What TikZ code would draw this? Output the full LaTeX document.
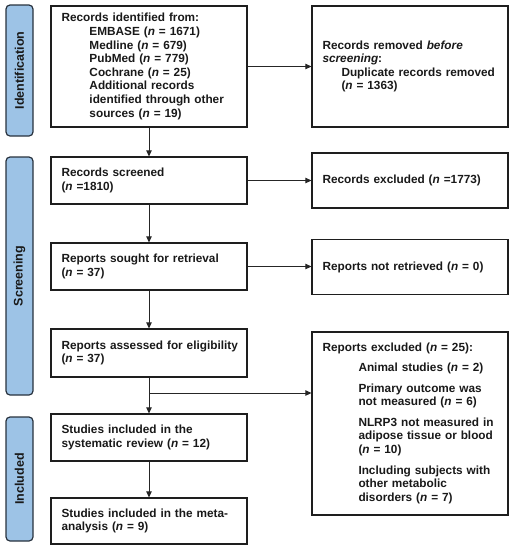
\documentclass[tikz,border=0pt]{standalone}
\usepackage{fontspec}
\setmainfont{Liberation Sans}
\usetikzlibrary{arrows.meta,calc}
\definecolor{sidefill}{RGB}{157,195,230}
\definecolor{sidedraw}{RGB}{40,50,62}
\definecolor{boxdraw}{RGB}{30,30,30}
\newcommand{\ind}[1]{\hspace*{#1}}
\newcommand{\nn}{\textit{n}}
\begin{document}
\begin{tikzpicture}[x=1pt,y=-1pt,
  flowbox/.style={draw=boxdraw,line width=1.2pt,rectangle,align=left,
    text width=175pt,inner xsep=10.5pt,inner ysep=0pt,minimum width=196pt,
    font=\fontsize{11.8}{13.6}\selectfont\bfseries,text=black!90},
  sidebox/.style={draw=sidedraw,fill=sidefill,line width=1.2pt,rounded corners=4pt,
    minimum width=27pt,inner sep=0pt},
  sidetext/.style={rotate=90,font=\fontsize{12.5}{14}\selectfont\bfseries,text=black!90},
  conn/.style={draw=black!85,line width=0.8pt,-{Triangle[width=5.5pt,length=6pt]}}]
\useasboundingbox (0,0) rectangle (512,550);

% side labels
\node[sidebox,minimum height=131pt] (sid) at (19.5,70.5) {};
\node[sidetext] (tid) at (sid.center) {Identification};
\node[sidebox,minimum height=238pt] (ssc) at (19.5,276) {};
\node[sidetext] (tsc) at (ssc.center) {Screening};
\node[sidebox,minimum height=124pt] (sin) at (19.5,479) {};
\node[sidetext] (tin) at (sin.center) {Included};

% left column
\node[flowbox,minimum height=121pt] (id) at (149,66.5) {Records identified from:\\
\ind{28pt}EMBASE (\nn{} = 1671)\\
\ind{28pt}Medline (\nn{} = 679)\\
\ind{28pt}PubMed (\nn{} = 779)\\
\ind{28pt}Cochrane (\nn{} = 25)\\
\ind{28pt}Additional records\\
\ind{28pt}identified through other\\
\ind{28pt}sources (\nn{} = 19)};

\node[flowbox,minimum height=47pt] (scr) at (149,180.5) {Records screened\\(\nn{} =1810)};
\node[flowbox,minimum height=47pt] (sought) at (149,266.5) {Reports sought for retrieval\\(\nn{} = 37)};
\node[flowbox,minimum height=48pt] (assess) at (149,353) {\mbox{Reports assessed for eligibility}\\(\nn{} = 37)};
\node[flowbox,minimum height=47pt] (sys) at (149,437.5) {Studies included in the\\systematic review (\nn{} = 12)};
\node[flowbox,minimum height=46pt] (meta) at (149,521) {Studies included in the meta-\\analysis (\nn{} = 9)};

% right column
\node[flowbox,minimum height=121pt] (rem) at (410,66.5) {Records removed \textit{before}\\\textit{screening}:\\
\ind{19pt}Duplicate records removed\\
\ind{19pt}(\nn{} = 1363)};
\node[flowbox,minimum height=55pt] (exc) at (410,180.5) {Records excluded (\nn{} =1773)};
\node[flowbox,minimum height=55pt] (notret) at (410,267) {Reports not retrieved (\nn{} = 0)};
\node[flowbox,minimum height=183pt] (rexc) at (410,423.5) {Reports excluded (\nn{} = 25):\\[6pt]
\ind{36pt}Animal studies (\nn{} = 2)\\[7pt]
\ind{36pt}Primary outcome was\\
\ind{36pt}not measured (\nn{} = 6)\\[7pt]
\ind{36pt}NLRP3 not measured in\\
\ind{36pt}adipose tissue or blood\\
\ind{36pt}(\nn{} = 10)\\[7pt]
\ind{36pt}Including subjects with\\
\ind{36pt}other metabolic\\
\ind{36pt}disorders (\nn{} = 7)};

% connectors
\draw[conn] (id.south) -- (scr.north);
\draw[conn] (scr.south) -- (sought.north);
\draw[conn] (sought.south) -- (assess.north);
\draw[conn] (assess.south) -- (sys.north);
\draw[conn] (sys.south) -- (meta.north);
\draw[conn] (id.east |- rem.west) -- (rem.west);
\draw[conn] (scr.east) -- (scr.east -| exc.west);
\draw[conn] (sought.east) -- (sought.east -| notret.west);
\coordinate (br) at (149,393);
\draw[conn] (br) -- (br -| rexc.west);
\end{tikzpicture}
\end{document}
